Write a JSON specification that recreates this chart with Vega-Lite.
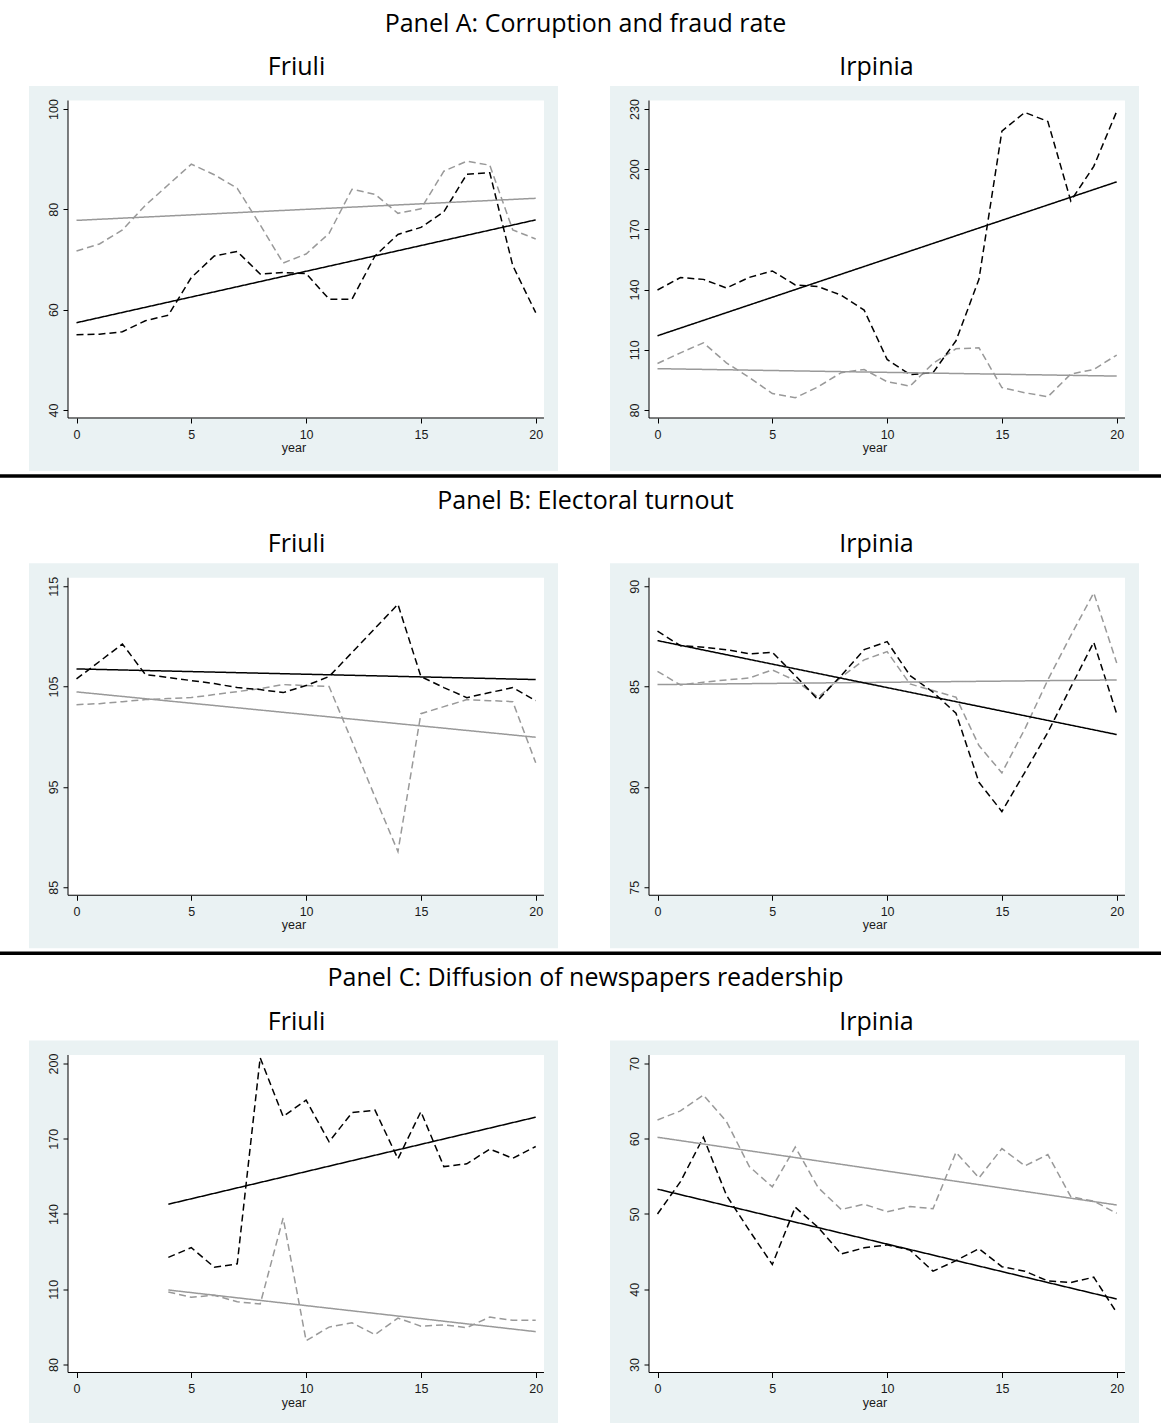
{
"$schema": "https://vega.github.io/schema/vega-lite/v6.json",
"padding": 0,
"background": "white",
"datasets": {"d": [
{"panel":"A","region":"Friuli","year":0,"obs1":55.0,"obs2":71.7},{"panel":"A","region":"Friuli","year":1,"obs1":55.1,"obs2":73.1},{"panel":"A","region":"Friuli","year":2,"obs1":55.6,"obs2":75.9},{"panel":"A","region":"Friuli","year":3,"obs1":57.8,"obs2":80.8},{"panel":"A","region":"Friuli","year":4,"obs1":58.9,"obs2":84.9},{"panel":"A","region":"Friuli","year":5,"obs1":66.4,"obs2":89.0},{"panel":"A","region":"Friuli","year":6,"obs1":70.7,"obs2":86.9},{"panel":"A","region":"Friuli","year":7,"obs1":71.6,"obs2":84.2},{"panel":"A","region":"Friuli","year":8,"obs1":67.1,"obs2":76.9},{"panel":"A","region":"Friuli","year":9,"obs1":67.4,"obs2":69.3},{"panel":"A","region":"Friuli","year":10,"obs1":67.2,"obs2":71.1},{"panel":"A","region":"Friuli","year":11,"obs1":62.1,"obs2":75.2},{"panel":"A","region":"Friuli","year":12,"obs1":62.1,"obs2":84.0},{"panel":"A","region":"Friuli","year":13,"obs1":70.7,"obs2":83.0},{"panel":"A","region":"Friuli","year":14,"obs1":75.0,"obs2":79.2},{"panel":"A","region":"Friuli","year":15,"obs1":76.4,"obs2":80.1},{"panel":"A","region":"Friuli","year":16,"obs1":79.5,"obs2":87.6},{"panel":"A","region":"Friuli","year":17,"obs1":87.0,"obs2":89.6},{"panel":"A","region":"Friuli","year":18,"obs1":87.3,"obs2":88.8},{"panel":"A","region":"Friuli","year":19,"obs1":68.8,"obs2":75.9},{"panel":"A","region":"Friuli","year":20,"obs1":59.4,"obs2":74.1},
{"panel":"A","region":"Friuli","year":0,"fit1":57.4,"fit2":77.8},{"panel":"A","region":"Friuli","year":20,"fit1":77.9,"fit2":82.2},
{"panel":"A","region":"Irpinia","year":0,"obs1":139.8,"obs2":103.2},{"panel":"A","region":"Irpinia","year":1,"obs1":146.0,"obs2":108.5},{"panel":"A","region":"Irpinia","year":2,"obs1":145.1,"obs2":113.5},{"panel":"A","region":"Irpinia","year":3,"obs1":140.8,"obs2":103.5},{"panel":"A","region":"Irpinia","year":4,"obs1":146.1,"obs2":96.2},{"panel":"A","region":"Irpinia","year":5,"obs1":149.3,"obs2":88.2},{"panel":"A","region":"Irpinia","year":6,"obs1":142.3,"obs2":86.1},{"panel":"A","region":"Irpinia","year":7,"obs1":141.5,"obs2":91.6},{"panel":"A","region":"Irpinia","year":8,"obs1":137.2,"obs2":98.6},{"panel":"A","region":"Irpinia","year":9,"obs1":129.8,"obs2":100.2},{"panel":"A","region":"Irpinia","year":10,"obs1":105.2,"obs2":94.1},{"panel":"A","region":"Irpinia","year":11,"obs1":97.6,"obs2":91.9},{"panel":"A","region":"Irpinia","year":12,"obs1":98.6,"obs2":103.2},{"panel":"A","region":"Irpinia","year":13,"obs1":114.5,"obs2":110.5},{"panel":"A","region":"Irpinia","year":14,"obs1":145.1,"obs2":111.0},{"panel":"A","region":"Irpinia","year":15,"obs1":219.0,"obs2":91.2},{"panel":"A","region":"Irpinia","year":16,"obs1":228.3,"obs2":88.6},{"panel":"A","region":"Irpinia","year":17,"obs1":223.8,"obs2":86.6},{"panel":"A","region":"Irpinia","year":18,"obs1":184.2,"obs2":97.9},{"panel":"A","region":"Irpinia","year":19,"obs1":201.4,"obs2":100.2},{"panel":"A","region":"Irpinia","year":20,"obs1":228.8,"obs2":107.4},
{"panel":"A","region":"Irpinia","year":0,"fit1":117.0,"fit2":100.6},{"panel":"A","region":"Irpinia","year":20,"fit1":193.7,"fit2":96.9},
{"panel":"B","region":"Friuli","year":0,"obs1":105.76,"obs2":103.2},{"panel":"B","region":"Friuli","year":1,"obs1":107.5,"obs2":103.3},{"panel":"B","region":"Friuli","year":2,"obs1":109.25,"obs2":103.5},{"panel":"B","region":"Friuli","year":3,"obs1":106.2,"obs2":103.7},{"panel":"B","region":"Friuli","year":4,"obs1":105.9,"obs2":103.8},{"panel":"B","region":"Friuli","year":5,"obs1":105.6,"obs2":103.9},{"panel":"B","region":"Friuli","year":6,"obs1":105.3,"obs2":104.2},{"panel":"B","region":"Friuli","year":7,"obs1":104.9,"obs2":104.5},{"panel":"B","region":"Friuli","year":8,"obs1":104.7,"obs2":104.8},{"panel":"B","region":"Friuli","year":9,"obs1":104.4,"obs2":105.2},{"panel":"B","region":"Friuli","year":10,"obs1":105.1,"obs2":105.1},{"panel":"B","region":"Friuli","year":11,"obs1":106.0,"obs2":105.0},{"panel":"B","region":"Friuli","year":12,"obs1":108.4,"obs2":99.55},{"panel":"B","region":"Friuli","year":13,"obs1":110.8,"obs2":94.0},{"panel":"B","region":"Friuli","year":14,"obs1":113.2,"obs2":88.55},{"panel":"B","region":"Friuli","year":15,"obs1":106.0,"obs2":102.3},{"panel":"B","region":"Friuli","year":16,"obs1":104.9,"obs2":103.0},{"panel":"B","region":"Friuli","year":17,"obs1":103.9,"obs2":103.7},{"panel":"B","region":"Friuli","year":18,"obs1":104.4,"obs2":103.6},{"panel":"B","region":"Friuli","year":19,"obs1":104.9,"obs2":103.5},{"panel":"B","region":"Friuli","year":20,"obs1":103.6,"obs2":97.4},
{"panel":"B","region":"Friuli","year":0,"fit1":106.76,"fit2":104.47},{"panel":"B","region":"Friuli","year":20,"fit1":105.7,"fit2":99.95},
{"panel":"B","region":"Irpinia","year":0,"obs1":87.76,"obs2":85.76},{"panel":"B","region":"Irpinia","year":1,"obs1":87.04,"obs2":85.08},{"panel":"B","region":"Irpinia","year":2,"obs1":86.96,"obs2":85.22},{"panel":"B","region":"Irpinia","year":3,"obs1":86.84,"obs2":85.33},{"panel":"B","region":"Irpinia","year":4,"obs1":86.63,"obs2":85.43},{"panel":"B","region":"Irpinia","year":5,"obs1":86.71,"obs2":85.83},{"panel":"B","region":"Irpinia","year":6,"obs1":85.55,"obs2":85.3},{"panel":"B","region":"Irpinia","year":7,"obs1":84.34,"obs2":84.47},{"panel":"B","region":"Irpinia","year":8,"obs1":85.55,"obs2":85.47},{"panel":"B","region":"Irpinia","year":9,"obs1":86.84,"obs2":86.33},{"panel":"B","region":"Irpinia","year":10,"obs1":87.24,"obs2":86.74},{"panel":"B","region":"Irpinia","year":11,"obs1":85.55,"obs2":85.13},{"panel":"B","region":"Irpinia","year":12,"obs1":84.72,"obs2":84.8},{"panel":"B","region":"Irpinia","year":13,"obs1":83.67,"obs2":84.47},{"panel":"B","region":"Irpinia","year":14,"obs1":80.23,"obs2":82.06},{"panel":"B","region":"Irpinia","year":15,"obs1":78.77,"obs2":80.7},{"panel":"B","region":"Irpinia","year":16,"obs1":80.73,"obs2":82.89},{"panel":"B","region":"Irpinia","year":17,"obs1":82.72,"obs2":85.33},{"panel":"B","region":"Irpinia","year":18,"obs1":84.97,"obs2":87.54},{"panel":"B","region":"Irpinia","year":19,"obs1":87.21,"obs2":89.67},{"panel":"B","region":"Irpinia","year":20,"obs1":83.64,"obs2":86.18},
{"panel":"B","region":"Irpinia","year":0,"fit1":87.29,"fit2":85.1},{"panel":"B","region":"Irpinia","year":20,"fit1":82.61,"fit2":85.33},
{"panel":"C","region":"Friuli","year":4,"obs1":122.7,"obs2":108.9},{"panel":"C","region":"Friuli","year":5,"obs1":126.6,"obs2":106.8},{"panel":"C","region":"Friuli","year":6,"obs1":118.8,"obs2":107.6},{"panel":"C","region":"Friuli","year":7,"obs1":120.1,"obs2":105.0},{"panel":"C","region":"Friuli","year":8,"obs1":202.3,"obs2":104.1},{"panel":"C","region":"Friuli","year":9,"obs1":178.9,"obs2":138.4},{"panel":"C","region":"Friuli","year":10,"obs1":185.4,"obs2":89.5},{"panel":"C","region":"Friuli","year":11,"obs1":168.8,"obs2":94.9},{"panel":"C","region":"Friuli","year":12,"obs1":180.4,"obs2":96.6},{"panel":"C","region":"Friuli","year":13,"obs1":181.4,"obs2":91.9},{"panel":"C","region":"Friuli","year":14,"obs1":162.0,"obs2":98.5},{"panel":"C","region":"Friuli","year":15,"obs1":180.8,"obs2":95.3},{"panel":"C","region":"Friuli","year":16,"obs1":158.9,"obs2":95.8},{"panel":"C","region":"Friuli","year":17,"obs1":160.0,"obs2":94.7},{"panel":"C","region":"Friuli","year":18,"obs1":165.9,"obs2":98.9},{"panel":"C","region":"Friuli","year":19,"obs1":162.2,"obs2":97.6},{"panel":"C","region":"Friuli","year":20,"obs1":166.9,"obs2":97.6},
{"panel":"C","region":"Friuli","year":4,"fit1":143.9,"fit2":109.7},{"panel":"C","region":"Friuli","year":20,"fit1":178.6,"fit2":93.1},
{"panel":"C","region":"Irpinia","year":0,"obs1":50.0,"obs2":62.5},{"panel":"C","region":"Irpinia","year":1,"obs1":54.3,"obs2":63.7},{"panel":"C","region":"Irpinia","year":2,"obs1":60.2,"obs2":65.8},{"panel":"C","region":"Irpinia","year":3,"obs1":52.5,"obs2":62.3},{"panel":"C","region":"Irpinia","year":4,"obs1":47.8,"obs2":56.3},{"panel":"C","region":"Irpinia","year":5,"obs1":43.3,"obs2":53.6},{"panel":"C","region":"Irpinia","year":6,"obs1":50.9,"obs2":58.9},{"panel":"C","region":"Irpinia","year":7,"obs1":48.2,"obs2":53.5},{"panel":"C","region":"Irpinia","year":8,"obs1":44.7,"obs2":50.6},{"panel":"C","region":"Irpinia","year":9,"obs1":45.5,"obs2":51.3},{"panel":"C","region":"Irpinia","year":10,"obs1":45.9,"obs2":50.3},{"panel":"C","region":"Irpinia","year":11,"obs1":45.2,"obs2":51.0},{"panel":"C","region":"Irpinia","year":12,"obs1":42.4,"obs2":50.7},{"panel":"C","region":"Irpinia","year":13,"obs1":43.8,"obs2":58.2},{"panel":"C","region":"Irpinia","year":14,"obs1":45.4,"obs2":54.8},{"panel":"C","region":"Irpinia","year":15,"obs1":43.0,"obs2":58.7},{"panel":"C","region":"Irpinia","year":16,"obs1":42.4,"obs2":56.4},{"panel":"C","region":"Irpinia","year":17,"obs1":41.1,"obs2":57.9},{"panel":"C","region":"Irpinia","year":18,"obs1":40.9,"obs2":52.3},{"panel":"C","region":"Irpinia","year":19,"obs1":41.6,"obs2":51.7},{"panel":"C","region":"Irpinia","year":20,"obs1":36.9,"obs2":50.1},
{"panel":"C","region":"Irpinia","year":0,"fit1":53.3,"fit2":60.2},{"panel":"C","region":"Irpinia","year":20,"fit1":38.7,"fit2":51.2}
]},
"spacing": 3.25,
"vconcat": [
 {"spacing": 18, "vconcat": [
  {"width": 1161, "height": 1, "data": {"values": [{}]}, "mark": {"type": "point", "size": 0, "opacity": 0}, "view": {"fill": "white", "stroke": null},
   "title": {"text": "Panel A: Corruption and fraud rate", "orient": "bottom", "offset": 11, "dx": 5}},
  {"spacing": 28, "bounds": "flush", "hconcat": [
   {"width": 1, "height": 1, "data": {"values": [{}]}, "mark": {"type": "point", "size": 0, "opacity": 0}, "view": {"stroke": null}},
   {"spacing": 52, "bounds": "flush", "hconcat": [
    {"width": 529, "height": 385, "view": {"fill": "#eaf2f3", "stroke": null}, "title": {"text": "Friuli", "offset": 6, "dx": 3},
     "layer": [
      {"data": {"values": [{}]}, "mark": {"type": "rect", "fill": "white"}, "encoding": {"x": {"datum": -0.37, "type": "quantitative"}, "x2": {"datum": 20.36}, "y": {"datum": 38.405, "type": "quantitative"}, "y2": {"datum": 101.694}}},
      {"data": {"name": "d"}, "transform": [{"filter": "datum.panel === 'A' && datum.region === 'Friuli'"}, {"fold": ["obs2", "fit2", "obs1", "fit1"], "as": ["line", "value"]}, {"filter": "isValid(datum.value)"}],
       "mark": {"type": "line", "strokeWidth": 1.5},
       "encoding": {
        "x": {"field": "year", "type": "quantitative", "scale": {"domain": [-2.069, 20.971], "nice": false, "zero": false}, "axis": {"values": [0, 5, 10, 15, 20], "title": "year"}},
        "y": {"field": "value", "type": "quantitative", "scale": {"domain": [27.84, 104.585], "nice": false, "zero": false}, "axis": {"values": [40, 60, 80, 100], "title": null}},
        "color": {"field": "line", "type": "nominal", "scale": {"domain": ["obs1", "fit1", "obs2", "fit2"], "range": ["#000000", "#000000", "#999999", "#999999"]}, "legend": null},
        "strokeDash": {"field": "line", "type": "nominal", "scale": {"domain": ["obs1", "fit1", "obs2", "fit2"], "range": [[7, 4], [1, 0], [7, 4], [1, 0]]}, "legend": null}}},
      {"data": {"values": [{}]}, "mark": {"type": "rule", "color": "black", "strokeWidth": 1}, "encoding": {"x": {"datum": -0.37, "type": "quantitative"}, "y": {"datum": 38.405, "type": "quantitative"}, "y2": {"datum": 101.694}}},
      {"data": {"values": [{}]}, "mark": {"type": "rule", "color": "black", "strokeWidth": 1}, "encoding": {"x": {"datum": -0.37, "type": "quantitative"}, "x2": {"datum": 20.36}, "y": {"datum": 38.405, "type": "quantitative"}}}
     ]},
    {"width": 529, "height": 385, "view": {"fill": "#eaf2f3", "stroke": null}, "title": {"text": "Irpinia", "offset": 6, "dx": 2},
     "layer": [
      {"data": {"values": [{}]}, "mark": {"type": "rect", "fill": "white"}, "encoding": {"x": {"datum": -0.37, "type": "quantitative"}, "x2": {"datum": 20.36}, "y": {"datum": 76.013, "type": "quantitative"}, "y2": {"datum": 234.236}}},
      {"data": {"name": "d"}, "transform": [{"filter": "datum.panel === 'A' && datum.region === 'Irpinia'"}, {"fold": ["obs2", "fit2", "obs1", "fit1"], "as": ["line", "value"]}, {"filter": "isValid(datum.value)"}],
       "mark": {"type": "line", "strokeWidth": 1.5},
       "encoding": {
        "x": {"field": "year", "type": "quantitative", "scale": {"domain": [-2.069, 20.971], "nice": false, "zero": false}, "axis": {"values": [0, 5, 10, 15, 20], "title": "year"}},
        "y": {"field": "value", "type": "quantitative", "scale": {"domain": [49.601, 241.462], "nice": false, "zero": false}, "axis": {"values": [80, 110, 140, 170, 200, 230], "title": null}},
        "color": {"field": "line", "type": "nominal", "scale": {"domain": ["obs1", "fit1", "obs2", "fit2"], "range": ["#000000", "#000000", "#999999", "#999999"]}, "legend": null},
        "strokeDash": {"field": "line", "type": "nominal", "scale": {"domain": ["obs1", "fit1", "obs2", "fit2"], "range": [[7, 4], [1, 0], [7, 4], [1, 0]]}, "legend": null}}},
      {"data": {"values": [{}]}, "mark": {"type": "rule", "color": "black", "strokeWidth": 1}, "encoding": {"x": {"datum": -0.37, "type": "quantitative"}, "y": {"datum": 76.013, "type": "quantitative"}, "y2": {"datum": 234.236}}},
      {"data": {"values": [{}]}, "mark": {"type": "rule", "color": "black", "strokeWidth": 1}, "encoding": {"x": {"datum": -0.37, "type": "quantitative"}, "x2": {"datum": 20.36}, "y": {"datum": 76.013, "type": "quantitative"}}}
     ]}
   ]}
  ]}
 ]},
 {"spacing": 18, "vconcat": [
  {"width": 1161, "height": 3.5, "data": {"values": [{}]}, "mark": {"type": "point", "size": 0, "opacity": 0}, "view": {"fill": "black", "stroke": null},
   "title": {"text": "Panel B: Electoral turnout", "orient": "bottom", "offset": 11.25, "dx": 5}},
  {"spacing": 28, "bounds": "flush", "hconcat": [
   {"width": 1, "height": 1, "data": {"values": [{}]}, "mark": {"type": "point", "size": 0, "opacity": 0}, "view": {"stroke": null}},
   {"spacing": 52, "bounds": "flush", "hconcat": [
    {"width": 529, "height": 385, "view": {"fill": "#eaf2f3", "stroke": null}, "title": {"text": "Friuli", "offset": 6, "dx": 3},
     "layer": [
      {"data": {"values": [{}]}, "mark": {"type": "rect", "fill": "white"}, "encoding": {"x": {"datum": -0.37, "type": "quantitative"}, "x2": {"datum": 20.36}, "y": {"datum": 84.203, "type": "quantitative"}, "y2": {"datum": 115.847}}},
      {"data": {"name": "d"}, "transform": [{"filter": "datum.panel === 'B' && datum.region === 'Friuli'"}, {"fold": ["obs2", "fit2", "obs1", "fit1"], "as": ["line", "value"]}, {"filter": "isValid(datum.value)"}],
       "mark": {"type": "line", "strokeWidth": 1.5},
       "encoding": {
        "x": {"field": "year", "type": "quantitative", "scale": {"domain": [-2.069, 20.971], "nice": false, "zero": false}, "axis": {"values": [0, 5, 10, 15, 20], "title": "year"}},
        "y": {"field": "value", "type": "quantitative", "scale": {"domain": [78.92, 117.292], "nice": false, "zero": false}, "axis": {"values": [85, 95, 105, 115], "title": null}},
        "color": {"field": "line", "type": "nominal", "scale": {"domain": ["obs1", "fit1", "obs2", "fit2"], "range": ["#000000", "#000000", "#999999", "#999999"]}, "legend": null},
        "strokeDash": {"field": "line", "type": "nominal", "scale": {"domain": ["obs1", "fit1", "obs2", "fit2"], "range": [[7, 4], [1, 0], [7, 4], [1, 0]]}, "legend": null}}},
      {"data": {"values": [{}]}, "mark": {"type": "rule", "color": "black", "strokeWidth": 1}, "encoding": {"x": {"datum": -0.37, "type": "quantitative"}, "y": {"datum": 84.203, "type": "quantitative"}, "y2": {"datum": 115.847}}},
      {"data": {"values": [{}]}, "mark": {"type": "rule", "color": "black", "strokeWidth": 1}, "encoding": {"x": {"datum": -0.37, "type": "quantitative"}, "x2": {"datum": 20.36}, "y": {"datum": 84.203, "type": "quantitative"}}}
     ]},
    {"width": 529, "height": 385, "view": {"fill": "#eaf2f3", "stroke": null}, "title": {"text": "Irpinia", "offset": 6, "dx": 2},
     "layer": [
      {"data": {"values": [{}]}, "mark": {"type": "rect", "fill": "white"}, "encoding": {"x": {"datum": -0.37, "type": "quantitative"}, "x2": {"datum": 20.36}, "y": {"datum": 74.601, "type": "quantitative"}, "y2": {"datum": 90.424}}},
      {"data": {"name": "d"}, "transform": [{"filter": "datum.panel === 'B' && datum.region === 'Irpinia'"}, {"fold": ["obs2", "fit2", "obs1", "fit1"], "as": ["line", "value"]}, {"filter": "isValid(datum.value)"}],
       "mark": {"type": "line", "strokeWidth": 1.5},
       "encoding": {
        "x": {"field": "year", "type": "quantitative", "scale": {"domain": [-2.069, 20.971], "nice": false, "zero": false}, "axis": {"values": [0, 5, 10, 15, 20], "title": "year"}},
        "y": {"field": "value", "type": "quantitative", "scale": {"domain": [71.96, 91.146], "nice": false, "zero": false}, "axis": {"values": [75, 80, 85, 90], "title": null}},
        "color": {"field": "line", "type": "nominal", "scale": {"domain": ["obs1", "fit1", "obs2", "fit2"], "range": ["#000000", "#000000", "#999999", "#999999"]}, "legend": null},
        "strokeDash": {"field": "line", "type": "nominal", "scale": {"domain": ["obs1", "fit1", "obs2", "fit2"], "range": [[7, 4], [1, 0], [7, 4], [1, 0]]}, "legend": null}}},
      {"data": {"values": [{}]}, "mark": {"type": "rule", "color": "black", "strokeWidth": 1}, "encoding": {"x": {"datum": -0.37, "type": "quantitative"}, "y": {"datum": 74.601, "type": "quantitative"}, "y2": {"datum": 90.424}}},
      {"data": {"values": [{}]}, "mark": {"type": "rule", "color": "black", "strokeWidth": 1}, "encoding": {"x": {"datum": -0.37, "type": "quantitative"}, "x2": {"datum": 20.36}, "y": {"datum": 74.601, "type": "quantitative"}}}
     ]}
   ]}
  ]}
 ]},
 {"spacing": 18, "vconcat": [
  {"width": 1161, "height": 3.5, "data": {"values": [{}]}, "mark": {"type": "point", "size": 0, "opacity": 0}, "view": {"fill": "black", "stroke": null},
   "title": {"text": "Panel C: Diffusion of newspapers readership", "orient": "bottom", "offset": 11.25, "dx": 5}},
  {"spacing": 28, "bounds": "flush", "hconcat": [
   {"width": 1, "height": 1, "data": {"values": [{}]}, "mark": {"type": "point", "size": 0, "opacity": 0}, "view": {"stroke": null}},
   {"spacing": 52, "bounds": "flush", "hconcat": [
    {"width": 529, "height": 385, "view": {"fill": "#eaf2f3", "stroke": null}, "title": {"text": "Friuli", "offset": 6, "dx": 3},
     "layer": [
      {"data": {"values": [{}]}, "mark": {"type": "rect", "fill": "white"}, "encoding": {"x": {"datum": -0.37, "type": "quantitative"}, "x2": {"datum": 20.36}, "y": {"datum": 76.811, "type": "quantitative"}, "y2": {"datum": 203.389}}},
      {"data": {"name": "d"}, "transform": [{"filter": "datum.panel === 'C' && datum.region === 'Friuli'"}, {"fold": ["obs2", "fit2", "obs1", "fit1"], "as": ["line", "value"]}, {"filter": "isValid(datum.value)"}],
       "mark": {"type": "line", "strokeWidth": 1.5},
       "encoding": {
        "x": {"field": "year", "type": "quantitative", "scale": {"domain": [-2.069, 20.971], "nice": false, "zero": false}, "axis": {"values": [0, 5, 10, 15, 20], "title": "year"}},
        "y": {"field": "value", "type": "quantitative", "scale": {"domain": [55.681, 209.169], "nice": false, "zero": false}, "axis": {"values": [80, 110, 140, 170, 200], "title": null}},
        "color": {"field": "line", "type": "nominal", "scale": {"domain": ["obs1", "fit1", "obs2", "fit2"], "range": ["#000000", "#000000", "#999999", "#999999"]}, "legend": null},
        "strokeDash": {"field": "line", "type": "nominal", "scale": {"domain": ["obs1", "fit1", "obs2", "fit2"], "range": [[7, 4], [1, 0], [7, 4], [1, 0]]}, "legend": null}}},
      {"data": {"values": [{}]}, "mark": {"type": "rule", "color": "black", "strokeWidth": 1}, "encoding": {"x": {"datum": -0.37, "type": "quantitative"}, "y": {"datum": 76.811, "type": "quantitative"}, "y2": {"datum": 203.389}}},
      {"data": {"values": [{}]}, "mark": {"type": "rule", "color": "black", "strokeWidth": 1}, "encoding": {"x": {"datum": -0.37, "type": "quantitative"}, "x2": {"datum": 20.36}, "y": {"datum": 76.811, "type": "quantitative"}}}
     ]},
    {"width": 529, "height": 385, "view": {"fill": "#eaf2f3", "stroke": null}, "title": {"text": "Irpinia", "offset": 6, "dx": 2},
     "layer": [
      {"data": {"values": [{}]}, "mark": {"type": "rect", "fill": "white"}, "encoding": {"x": {"datum": -0.37, "type": "quantitative"}, "x2": {"datum": 20.36}, "y": {"datum": 28.937, "type": "quantitative"}, "y2": {"datum": 71.13}}},
      {"data": {"name": "d"}, "transform": [{"filter": "datum.panel === 'C' && datum.region === 'Irpinia'"}, {"fold": ["obs2", "fit2", "obs1", "fit1"], "as": ["line", "value"]}, {"filter": "isValid(datum.value)"}],
       "mark": {"type": "line", "strokeWidth": 1.5},
       "encoding": {
        "x": {"field": "year", "type": "quantitative", "scale": {"domain": [-2.069, 20.971], "nice": false, "zero": false}, "axis": {"values": [0, 5, 10, 15, 20], "title": "year"}},
        "y": {"field": "value", "type": "quantitative", "scale": {"domain": [21.894, 73.056], "nice": false, "zero": false}, "axis": {"values": [30, 40, 50, 60, 70], "title": null}},
        "color": {"field": "line", "type": "nominal", "scale": {"domain": ["obs1", "fit1", "obs2", "fit2"], "range": ["#000000", "#000000", "#999999", "#999999"]}, "legend": null},
        "strokeDash": {"field": "line", "type": "nominal", "scale": {"domain": ["obs1", "fit1", "obs2", "fit2"], "range": [[7, 4], [1, 0], [7, 4], [1, 0]]}, "legend": null}}},
      {"data": {"values": [{}]}, "mark": {"type": "rule", "color": "black", "strokeWidth": 1}, "encoding": {"x": {"datum": -0.37, "type": "quantitative"}, "y": {"datum": 28.937, "type": "quantitative"}, "y2": {"datum": 71.13}}},
      {"data": {"values": [{}]}, "mark": {"type": "rule", "color": "black", "strokeWidth": 1}, "encoding": {"x": {"datum": -0.37, "type": "quantitative"}, "x2": {"datum": 20.36}, "y": {"datum": 28.937, "type": "quantitative"}}}
     ]}
   ]}
  ]}
 ]}
],
"config": {
 "view": {"stroke": null},
 "title": {"font": "Open Sans", "fontSize": 25, "fontWeight": "normal", "color": "#000000", "anchor": "middle", "baseline": "alphabetic"},
 "axis": {"labelFont": "Liberation Sans", "labelFontSize": 12.5, "labelColor": "#1a1a1a", "tickColor": "#000000", "tickSize": 5, "tickWidth": 1, "domain": false, "zindex": 1, "labelFlush": false, "labelOverlap": false, "titleFont": "Liberation Sans", "titleFontSize": 12.5, "titleFontWeight": "normal", "titleColor": "#1a1a1a", "gridColor": "#eaf2f3", "gridWidth": 1.5},
 "axisX": {"grid": false, "offset": -53, "labelPadding": 5, "titlePadding": 1},
 "axisY": {"grid": true, "gridDash": [476, 100], "offset": -39, "labelAngle": 270, "labelAlign": "center", "labelBaseline": "alphabetic", "labelPadding": 6}
}
}
